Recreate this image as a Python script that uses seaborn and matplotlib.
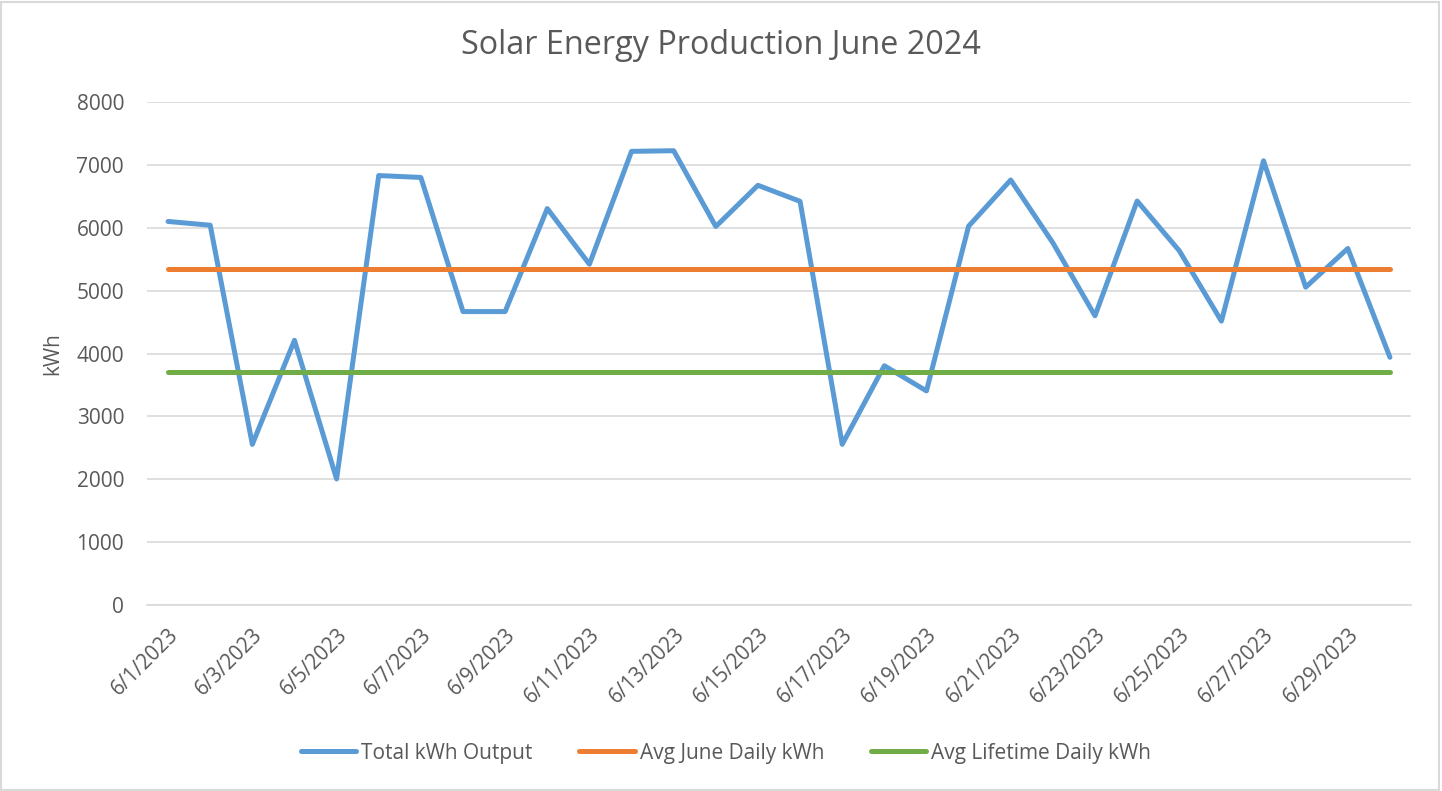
import pandas as pd
import numpy as np
import matplotlib
matplotlib.use('Agg')
import matplotlib.pyplot as plt
import seaborn as sns
from matplotlib.patches import Rectangle

# data
days = ['6/%d/2023' % d for d in range(1, 31)]
total_kwh = [6100, 6040, 2555, 4210, 2005, 6830, 6800, 4667, 4667, 6305,
             5420, 7215, 7225, 6020, 6675, 6420, 2555, 3805, 3405, 6025,
             6760, 5760, 4600, 6425, 5635, 4515, 7065, 5055, 5670, 3940]
avg_june = [5340] * 30
avg_lifetime = [3700] * 30

series_names = ['Total kWh Output', 'Avg June Daily kWh', 'Avg Lifetime Daily kWh']
colors = ['#5B9BD5', '#ED7D31', '#70AD47']

df = pd.DataFrame({
    'day': list(range(30)) * 3,
    'kWh': total_kwh + avg_june + avg_lifetime,
    'series': [series_names[0]] * 30 + [series_names[1]] * 30 + [series_names[2]] * 30,
})

sns.set_style('white')
plt.rcParams['font.family'] = ['Open Sans', 'DejaVu Sans']
txt = '#595959'
grid = '#D9D9D9'
fs = 15

fig = plt.figure(figsize=(14.42, 7.91), dpi=100)
ax = fig.add_axes([147/1442, 1 - 605/791, (1411-147)/1442, (605-102)/791])

sns.lineplot(data=df, x='day', y='kWh', hue='series', hue_order=series_names,
             palette=colors, linewidth=3.6, ax=ax, legend=False,
             solid_capstyle='round', solid_joinstyle='round')

ax.set_xlim(-0.5, 29.5)
ax.set_ylim(0, 8000)
ax.set_yticks(range(0, 8001, 1000))
ax.set_yticklabels([str(v) for v in range(0, 8001, 1000)], fontsize=fs, color=txt)
ax.yaxis.grid(True, color=grid, linewidth=1.2)
ax.set_axisbelow(True)
ax.tick_params(axis='y', length=0, pad=16.5)

# category ticks between every 2nd day, labels on odd days
ax.set_xticks(np.arange(-0.5, 30, 2))
ax.set_xticklabels([])
ax.tick_params(axis='x', which='major', length=6, color=grid, width=1.2, direction='out')
ax.set_xticks(range(0, 30, 2), minor=True)
ax.set_xticklabels(days[::2], minor=True, rotation=45, ha='right',
                   rotation_mode='anchor', fontsize=14.8, color=txt)
ax.tick_params(axis='x', which='minor', length=0, pad=14)

for s in ['top', 'right', 'left']:
    ax.spines[s].set_visible(False)
ax.spines['bottom'].set_color(grid)
ax.spines['bottom'].set_linewidth(1.2)

ax.set_xlabel('')
ax.set_ylabel('kWh', fontsize=fs, color=txt)
ax.yaxis.set_label_coords((63 - 147) / 1264, 0.5)

fig.text(0.5, 1 - 45/791, 'Solar Energy Production June 2024', ha='center', va='center',
         fontsize=23.3, color=txt)

handles = [plt.Line2D([], [], color=c, linewidth=3.6, solid_capstyle='round') for c in colors]
fig.legend(handles, series_names, loc='center', bbox_to_anchor=(726/1442, 1 - 753/791),
           ncol=3, frameon=False, fontsize=fs, handlelength=2.65, handletextpad=0.24,
           columnspacing=2.25, labelcolor=txt)

fig.patches.append(Rectangle((0.001, 0.001), 0.997, 0.997, transform=fig.transFigure,
                             fill=False, edgecolor=grid, linewidth=1.5))

fig.savefig('out.png', dpi=100)
